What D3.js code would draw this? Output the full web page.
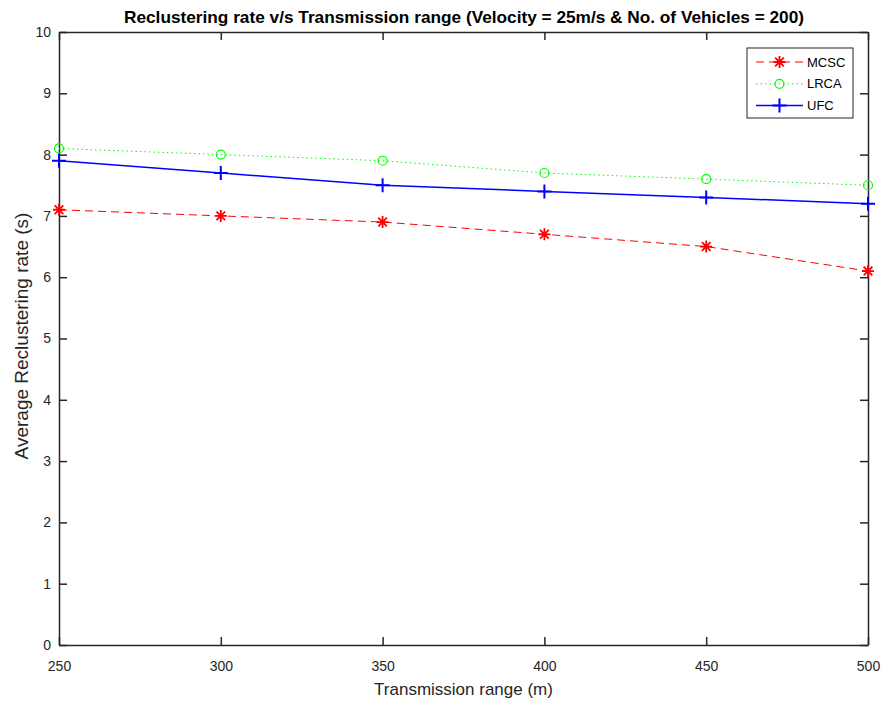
<!DOCTYPE html>
<html lang="en">
<head>
  <meta charset="UTF-8">
  <title>Reclustering rate</title>
  <script src="https://d3js.org/d3.v7.min.js"></script>
  <style>
    body { margin: 0; background: #fff; }
    text { font-family: Arial, "Liberation Sans", sans-serif; }
  </style>
</head>
<body>
  <svg width="881" height="702" id="chart"></svg>
  <script>
    const ranges = [250, 300, 350, 400, 450, 500];
    const mcsc = [7.1, 7.0, 6.9, 6.7, 6.5, 6.1];
    const lrca = [8.1, 8.0, 7.9, 7.7, 7.6, 7.5];
    const ufc = [7.9, 7.7, 7.5, 7.4, 7.3, 7.2];
    const yTicks = [0, 1, 2, 3, 4, 5, 6, 7, 8, 9, 10];

    const series = [
      { name: 'MCSC', values: mcsc, color: '#ff0000', dash: '8,5', marker: 'star', width: 1 },
      { name: 'LRCA', values: lrca, color: '#00ff00', dash: '1.5,3', marker: 'circle', width: 1 },
      { name: 'UFC', values: ufc, color: '#0000ff', dash: null, marker: 'plus', width: 1.5 }
    ];

    const svg = d3.select('#chart');
    const margin = { top: 32, right: 13, bottom: 57, left: 59 };
    const innerWidth = 881 - margin.left - margin.right;
    const innerHeight = 702 - margin.top - margin.bottom;
    const axisColor = '#262626';

    const x = d3.scaleLinear().domain([250, 500]).range([0, innerWidth]);
    const y = d3.scaleLinear().domain([0, 10]).range([innerHeight, 0]);

    const g = svg.append('g')
      .attr('transform', `translate(${margin.left}, ${margin.top})`);

    // axes, ticks pointing inward
    const tickLen = 8;
    const styleAxis = sel => {
      sel.select('.domain').attr('stroke', axisColor).attr('stroke-width', 1.5);
      sel.selectAll('.tick line').attr('stroke', axisColor).attr('stroke-width', 1.5);
      sel.selectAll('.tick text').attr('fill', axisColor).attr('font-size', '14px')
        .attr('font-family', 'Arial, "Liberation Sans", sans-serif');
    };

    g.append('g').attr('transform', `translate(0, ${innerHeight})`)
      .call(d3.axisBottom(x).tickValues(ranges).tickSize(-tickLen).tickSizeOuter(0).tickPadding(16))
      .call(styleAxis);
    g.append('g')
      .call(d3.axisTop(x).tickValues(ranges).tickSize(-tickLen).tickSizeOuter(0))
      .call(styleAxis)
      .selectAll('.tick text').remove();
    g.append('g')
      .call(d3.axisLeft(y).tickValues(yTicks).tickSize(-tickLen).tickSizeOuter(0).tickPadding(8))
      .call(styleAxis);
    g.append('g').attr('transform', `translate(${innerWidth}, 0)`)
      .call(d3.axisRight(y).tickValues(yTicks).tickSize(-tickLen).tickSizeOuter(0))
      .call(styleAxis)
      .selectAll('.tick text').remove();

    // markers
    function drawMarker(sel, type, cx, cy, color) {
      if (type === 'circle') {
        sel.append('circle').attr('cx', cx).attr('cy', cy).attr('r', 4.5)
          .attr('fill', 'none').attr('stroke', color).attr('stroke-width', 1.2);
      } else if (type === 'plus') {
        sel.append('path').attr('d', `M${cx - 7},${cy}H${cx + 7}M${cx},${cy - 7}V${cy + 7}`)
          .attr('stroke', color).attr('stroke-width', 2);
      } else {
        const r = 6;
        const d = r * 0.72;
        sel.append('path')
          .attr('d', `M${cx - r},${cy}H${cx + r}M${cx},${cy - r}V${cy + r}M${cx - d},${cy - d}L${cx + d},${cy + d}M${cx - d},${cy + d}L${cx + d},${cy - d}`)
          .attr('stroke', color).attr('stroke-width', 1.8);
      }
    }

    const line = d3.line().x((d, i) => x(ranges[i])).y(d => y(d));

    series.forEach(s => {
      g.append('path').datum(s.values)
        .attr('d', line)
        .attr('fill', 'none')
        .attr('stroke', s.color)
        .attr('stroke-width', s.width)
        .attr('stroke-dasharray', s.dash);
      const mg = g.append('g');
      s.values.forEach((v, i) => drawMarker(mg, s.marker, x(ranges[i]), y(v), s.color));
    });

    // legend
    const legend = svg.append('g').attr('transform', 'translate(747, 48)');
    legend.append('rect').attr('width', 106).attr('height', 70)
      .attr('fill', '#fff').attr('stroke', axisColor).attr('stroke-width', 1);
    series.forEach((s, i) => {
      const ly = 14 + i * 21.8;
      legend.append('line').attr('x1', 9).attr('x2', 56).attr('y1', ly).attr('y2', ly)
        .attr('stroke', s.color).attr('stroke-width', s.width)
        .attr('stroke-dasharray', s.dash);
      drawMarker(legend, s.marker, 32.5, ly, s.color);
      legend.append('text').attr('x', 60).attr('y', ly).attr('dy', '0.35em')
        .attr('font-size', '13px').attr('fill', '#000').text(s.name);
    });

    // titles
    svg.append('text')
      .attr('x', 464).attr('y', 23)
      .attr('text-anchor', 'middle').attr('font-size', '17px').attr('font-weight', 'bold')
      .attr('fill', '#000')
      .attr('textLength', 680).attr('lengthAdjust', 'spacingAndGlyphs')
      .text('Reclustering rate v/s Transmission range (Velocity = 25m/s & No. of Vehicles = 200)');

    svg.append('text')
      .attr('x', margin.left + innerWidth / 2).attr('y', 695)
      .attr('text-anchor', 'middle').attr('font-size', '17px').attr('fill', axisColor)
      .text('Transmission range (m)');

    svg.append('text')
      .attr('transform', `translate(28, 336) rotate(-90)`)
      .attr('text-anchor', 'middle').attr('font-size', '19px').attr('fill', axisColor)
      .text('Average Reclustering rate (s)');
  </script>
</body>
</html>
